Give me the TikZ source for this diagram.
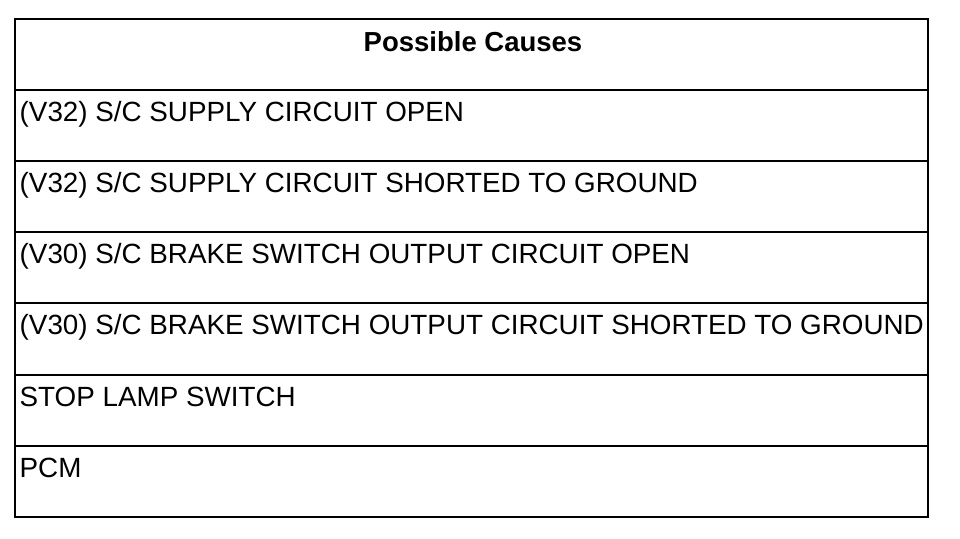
\documentclass[tikz,border=0pt]{standalone}
\usepackage{fontspec}
\setmainfont{Liberation Sans}
\begin{document}
\begin{tikzpicture}[x=1pt,y=-1pt,
  rowtext/.style={anchor=base west,inner sep=0pt,font=\fontsize{27.8}{30}\selectfont},
  headtext/.style={anchor=base,inner sep=0pt,font=\fontsize{27.5}{30}\selectfont\bfseries},
  rule/.style={line width=2.2pt,black}]
\useasboundingbox (0,0) rectangle (960,538);
\coordinate (tl) at (15,19);
\coordinate (br) at (928,517);
\draw[rule] (tl) rectangle (br);
\foreach \y in {90,161,232,303,375,446}{
  \draw[rule] (15,\y) -- (928,\y);
}
\node[headtext] (head) at (473,51.5) {Possible Causes};
\node[rowtext] (r1) at (19.5,121.5) {(V32) S/C SUPPLY CIRCUIT OPEN};
\node[rowtext] (r2) at (19.5,192.5) {(V32) S/C SUPPLY CIRCUIT SHORTED TO GROUND};
\node[rowtext] (r3) at (19.5,263.5) {(V30) S/C BRAKE SWITCH OUTPUT CIRCUIT OPEN};
\node[rowtext] (r4) at (19.5,334.5) {(V30) S/C BRAKE SWITCH OUTPUT CIRCUIT SHORTED TO GROUND};
\node[rowtext] (r5) at (19.5,406) {STOP LAMP SWITCH};
\node[rowtext] (r6) at (19.5,477) {PCM};
\end{tikzpicture}
\end{document}
